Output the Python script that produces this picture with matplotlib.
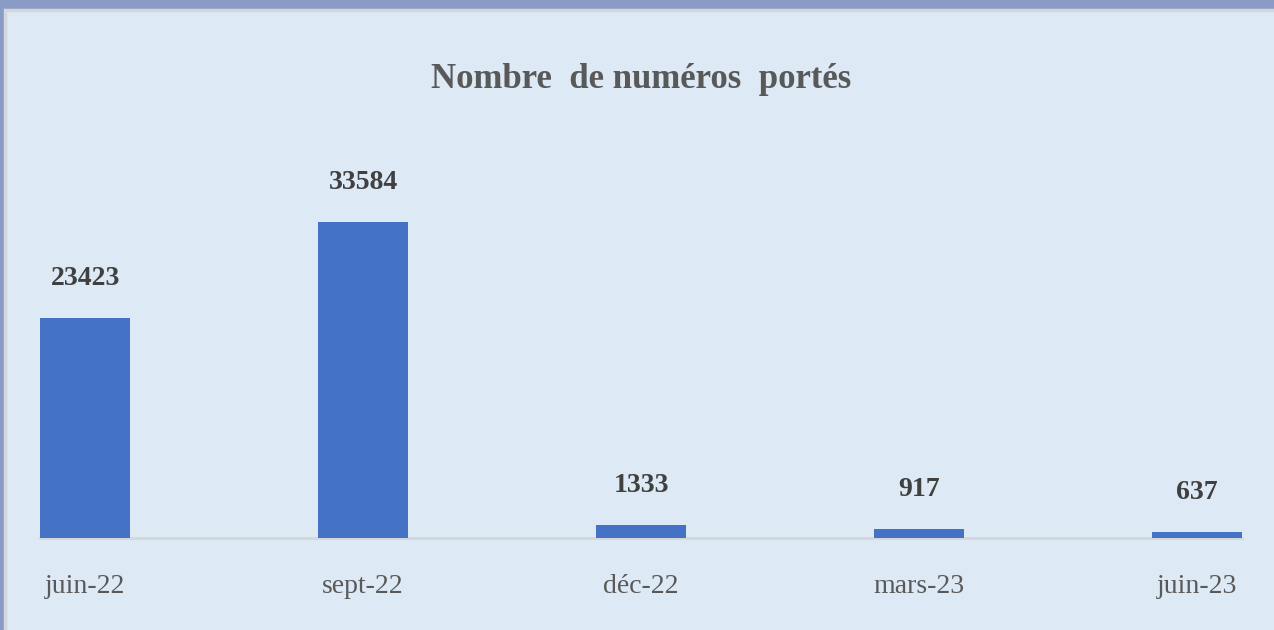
import matplotlib.pyplot as plt
from matplotlib.patches import Rectangle
import numpy as np

# data
mois = ["juin-22", "sept-22", "déc-22", "mars-23", "juin-23"]
numeros_portes = [23423, 33584, 1333, 917, 637]

fond = "#dde9f5"
cadre = "#8a9cc6"
barre = "#4472c4"
gris = "#595959"

fig = plt.figure(figsize=(12.74, 6.30), dpi=100, facecolor=cadre)

# inner light panel with a thin grey edge (top / left)
panel = Rectangle((5 / 1274, -0.01), 1.0, (620 / 630) + 0.01, transform=fig.transFigure,
                  facecolor=fond, edgecolor="#d3d6dc", linewidth=2.5, zorder=-5)
fig.patches.append(panel)

ax = fig.add_axes([40 / 1274, 92 / 630, 1202 / 1274, 408 / 630])
ax.set_facecolor("none")
ax.set_zorder(2)

x = np.arange(len(mois))
w = 0.325
bars = ax.bar(x, numeros_portes, width=w, color=barre, zorder=2)

ax.set_xlim(-w / 2, len(mois) - 1 + w / 2)
ax.set_ylim(0, 43360)

for s in ["top", "right", "left"]:
    ax.spines[s].set_visible(False)
ax.spines["bottom"].set_color("#d5d6d9")
ax.spines["bottom"].set_linewidth(2)
ax.spines["bottom"].set_zorder(1)
ax.set_yticks([])
ax.set_xticks(x)
ax.set_xticklabels(mois, fontfamily="Liberation Serif", fontsize=20, color=gris)
ax.tick_params(axis="x", length=0, pad=26)

for b, v in zip(bars, numeros_portes):
    ax.annotate(str(v), (b.get_x() + b.get_width() / 2, v), xytext=(0, 28.5),
                textcoords="offset points", ha="center", va="center",
                fontfamily="Liberation Serif", fontweight="bold", fontsize=20, color="#404040")

fig.text(641 / 1274, 1 - 80 / 630, "Nombre  de numéros  portés", ha="center", va="center",
         fontfamily="Liberation Serif", fontweight="bold", fontsize=25, color=gris)

fig.savefig("out.png", dpi=100, facecolor=cadre)
